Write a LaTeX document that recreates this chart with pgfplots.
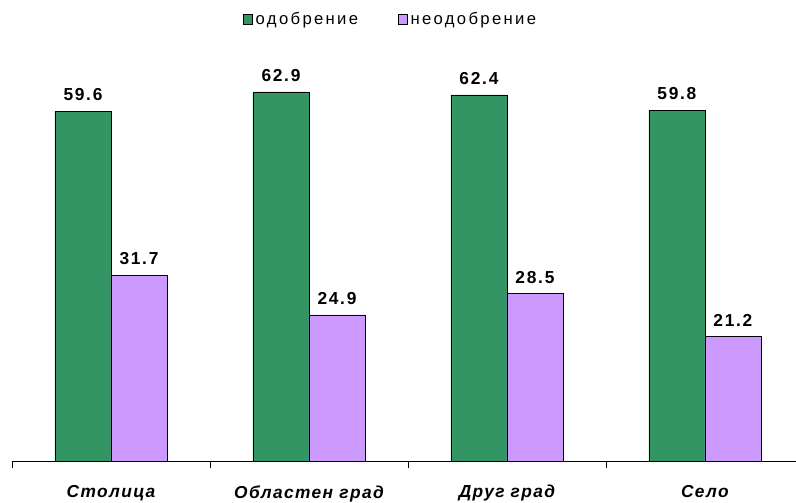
\documentclass[border=0pt]{standalone}
\usepackage{pgfplots}
\pgfplotsset{compat=1.18}
\usepackage{fontspec}
\setmainfont{Liberation Sans}
\newfontfamily\legfont[LetterSpace=14]{Liberation Sans}
\newfontfamily\catfont[LetterSpace=8]{Liberation Sans}
\newfontfamily\valfont[LetterSpace=10]{Liberation Sans}

\definecolor{odGreen}{RGB}{51,148,100}
\definecolor{neLilac}{RGB}{204,153,255}

\begin{document}
\begin{tikzpicture}
\path[use as bounding box] (0,0) rectangle (597pt,377.25pt);
\begin{axis}[
    at={(9pt,31.5pt)}, anchor=south west,
    scale only axis,
    width=588pt, height=308pt,
    ybar=0pt,
    bar width=42pt,
    xmin=-0.5, xmax=3.46,
    ymin=0, ymax=70,
    axis x line=bottom,
    axis y line=none,
    axis line style={-, line width=0.6pt},
    xtick={0,1,2,3},
    xticklabels={Столица, Областен град, Друг град, Село},
    major x tick style={draw=none},
    minor xtick={-0.5,0.5,1.5,2.5,3.5},
    minor tick length=5pt,
    tick align=outside,
    minor x tick style={line width=0.6pt, black},
    xticklabel style={font=\catfont\fontsize{13}{15}\selectfont\bfseries\itshape, yshift=-10.5pt},
    clip=false,
    nodes near coords,
    every node near coord/.append style={font=\valfont\fontsize{13}{15}\selectfont\bfseries, inner sep=0pt, anchor=south, yshift=7.5pt},
    /pgf/number format/.cd, fixed, fixed zerofill, precision=1, assume math mode=true,
    /pgfplots/.cd,
    legend style={at={(0.4835,1.0755)}, anchor=center, draw=none, legend columns=2,
        font=\legfont\fontsize{12.5}{14}\selectfont,
        /tikz/every even column/.append style={column sep=28pt}},
    legend image code/.code={\draw[#1, line width=0.5pt] (0pt,-3.4pt) rectangle (6.8pt,3.4pt);},
]
\addplot[fill=odGreen, draw=black, line width=0.6pt] coordinates {(0,59.6) (1,62.9) (2,62.4) (3,59.8)};
\addplot[fill=neLilac, draw=black, line width=0.6pt] coordinates {(0,31.7) (1,24.9) (2,28.5) (3,21.2)};
\legend{одобрение, неодобрение}
\end{axis}
\end{tikzpicture}
\end{document}
